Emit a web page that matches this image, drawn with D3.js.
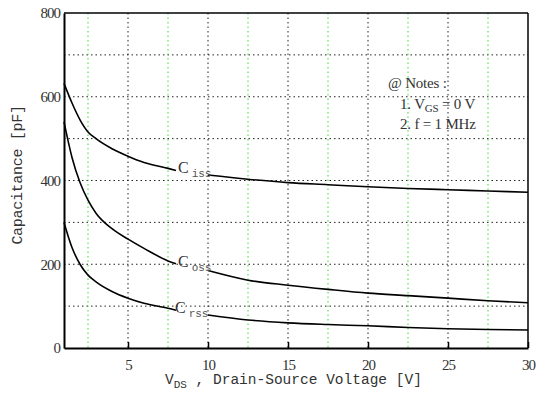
<!DOCTYPE html>
<html>
<head>
<meta charset="utf-8">
<script src="https://cdn.jsdelivr.net/npm/d3@7"></script>
<style>
  body { margin: 0; background: #fff; }
  svg { display: block; }
</style>
</head>
<body>
<div id="chart"></div>
<script>
// V_DS sample points
var vds  = [1, 1.5, 2, 2.5, 3, 4, 5, 6, 7.5, 8, 10, 12.5, 15, 17.5, 20, 22.5, 25, 27.5, 30];
var ciss = [632, 585, 545, 516, 500, 476, 458, 443, 429, 424, 413, 403, 395, 390, 385, 381, 378, 375, 372];
var coss = [540, 455, 395, 353, 322, 285, 260, 238, 208, 201, 185, 162, 150, 140, 131, 125, 119, 113, 108];
var crss = [300, 240, 200, 174, 158, 135, 119, 107, 95, 90, 79, 67, 60, 56, 53, 49, 46, 44, 43];

var xTicks = [5, 10, 15, 20, 25, 30];
var xMinor = [2.5, 7.5, 12.5, 17.5, 22.5, 27.5];
var yTicks = [0, 200, 400, 600, 800];
var yGrid  = [100, 200, 300, 400, 500, 600, 700];

var margin = {top: 13, right: 8, bottom: 48, left: 64},
    width = 536 - margin.left - margin.right,
    height = 396 - margin.top - margin.bottom;

var svg = d3.select("#chart")
  .append("svg")
    .attr("width", 536)
    .attr("height", 396)
  .append("g")
    .attr("transform", "translate(" + margin.left + "," + margin.top + ")");

var x = d3.scaleLinear().domain([1, 30]).range([0, width]);
var y = d3.scaleLinear().domain([0, 800]).range([height, 0]);

// grid
svg.selectAll(".hgrid").data(yGrid).enter().append("line")
  .attr("x1", 0).attr("x2", width)
  .attr("y1", function(d) { return y(d); }).attr("y2", function(d) { return y(d); })
  .attr("stroke", "#222").attr("stroke-width", 1).attr("stroke-dasharray", "1.5,3");

svg.selectAll(".vgrid").data(xTicks.slice(0, -1)).enter().append("line")
  .attr("x1", function(d) { return x(d); }).attr("x2", function(d) { return x(d); })
  .attr("y1", 0).attr("y2", height)
  .attr("stroke", "#222").attr("stroke-width", 1).attr("stroke-dasharray", "1.5,3");

svg.selectAll(".vgrid2").data(xMinor).enter().append("line")
  .attr("x1", function(d) { return x(d); }).attr("x2", function(d) { return x(d); })
  .attr("y1", 0).attr("y2", height)
  .attr("stroke", "#33dd33").attr("stroke-width", 1).attr("stroke-dasharray", "1.5,3");

// axes
var xAxis = svg.append("g")
  .attr("transform", "translate(0," + height + ")")
  .call(d3.axisBottom(x).tickValues(xTicks).tickSizeInner(-6).tickSizeOuter(0).tickPadding(11));
var yAxis = svg.append("g")
  .call(d3.axisLeft(y).tickValues(yTicks).tickSizeInner(0).tickSizeOuter(0).tickPadding(4));

[xAxis, yAxis].forEach(function(a) {
  a.select(".domain").attr("stroke", "#000").attr("stroke-width", 2);
  a.selectAll(".tick line").attr("stroke", "#000").attr("stroke-width", 1.5);
  a.selectAll("text")
    .attr("fill", "#333")
    .style("font-family", "'Liberation Serif', serif")
    .style("font-size", "15px")
    .style("letter-spacing", "-1px");
});

// top and right frame
svg.append("line").attr("x1", 0).attr("x2", width).attr("y1", 0).attr("y2", 0)
  .attr("stroke", "#000").attr("stroke-width", 1.5);
svg.append("line").attr("x1", width).attr("x2", width).attr("y1", 0).attr("y2", height)
  .attr("stroke", "#000").attr("stroke-width", 1.5);

// curves, broken where the label sits
var line = d3.line()
  .x(function(d) { return x(d[0]); })
  .y(function(d) { return y(d[1]); })
  .curve(d3.curveMonotoneX);

var series = [
  {name: "iss", values: ciss, dx: 2, dy: 3},
  {name: "oss", values: coss, dx: 2, dy: 3},
  {name: "rss", values: crss, dx: -1, dy: 3}
];

series.forEach(function(s) {
  var pts = vds.map(function(v, i) { return [v, s.values[i]]; });
  var left = pts.filter(function(p) { return p[0] <= 8; });
  var right = pts.filter(function(p) { return p[0] >= 10; });
  [left, right].forEach(function(seg) {
    svg.append("path")
      .datum(seg)
      .attr("d", line)
      .attr("fill", "none")
      .attr("stroke", "#000")
      .attr("stroke-width", 1.6);
  });
  var lp = left[left.length - 1];
  var t = svg.append("text")
    .attr("x", x(lp[0]) + s.dx)
    .attr("y", y(lp[1]) + s.dy)
    .attr("fill", "#333")
    .style("font-family", "'Liberation Serif', serif")
    .style("font-size", "16px")
    .text("C");
  t.append("tspan")
    .attr("dx", 3).attr("dy", 4)
    .style("font-family", "'Liberation Mono', monospace")
    .style("font-size", "11px")
    .attr("fill", "#555")
    .text(s.name);
});

// notes
var notes = svg.append("g")
  .attr("fill", "#333")
  .style("font-family", "'Liberation Serif', serif")
  .style("font-size", "15px")
  .style("letter-spacing", "-0.2px");
notes.append("text").attr("x", 324).attr("y", 75).text("@ Notes :");
var n1 = notes.append("text").attr("x", 336).attr("y", 96).text("1. V");
n1.append("tspan").attr("dy", 3).style("font-size", "11px").text("GS");
n1.append("tspan").attr("dy", -3).text(" = 0 V");
notes.append("text").attr("x", 336).attr("y", 116).text("2. f = 1 MHz");

// axis titles
var xt = svg.append("text")
  .attr("x", 101)
  .attr("y", height + 36)
  .attr("fill", "#333")
  .style("font-family", "'Liberation Mono', monospace")
  .style("font-size", "14.5px")
  .text("V");
xt.append("tspan").attr("dy", 4).style("font-size", "11px").text("DS");
xt.append("tspan").attr("dy", -4).text(" , Drain-Source Voltage [V]");

svg.append("text")
  .attr("transform", "rotate(-90)")
  .attr("x", -(175 - margin.top))
  .attr("y", 17 - margin.left + 5)
  .attr("fill", "#333")
  .style("text-anchor", "middle")
  .style("font-family", "'Liberation Mono', monospace")
  .style("font-size", "15px")
  .style("letter-spacing", "-0.3px")
  .text("Capacitance  [pF]");
</script>
</body>
</html>
